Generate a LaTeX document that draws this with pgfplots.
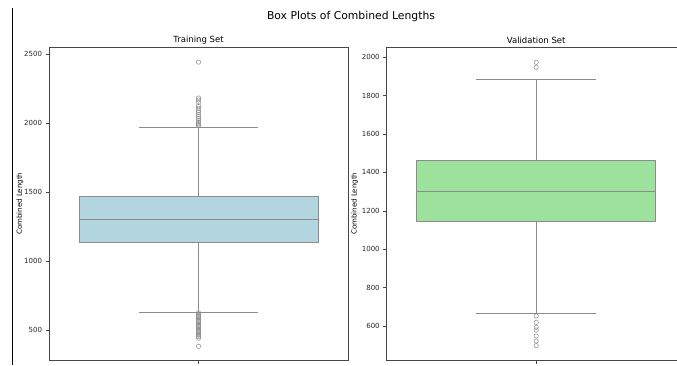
\documentclass[border=0pt]{standalone}
\usepackage{pgfplots}
\pgfplotsset{compat=1.18}
\usepackage{fontspec}
\setmainfont{DejaVu Sans}

\definecolor{boxblue}{RGB}{179,213,224}
\definecolor{boxgreen}{RGB}{156,226,156}
\definecolor{edgegray}{RGB}{140,140,140}
\definecolor{spine}{RGB}{70,70,70}

\pgfplotsset{
  boxaxis/.style={
    scale only axis, width=299pt, height=312.5pt,
    xmin=-0.5, xmax=0.5, xtick={0}, xticklabels={\strut},
    tick pos=left, tick align=outside, major tick length=3.5pt,
    every tick/.style={spine, line width=0.6pt},
    axis line style={spine, line width=0.8pt},
    tick label style={font=\fontsize{7}{8}\selectfont, text=black!85},
    /pgf/number format/assume math mode=true,
    /pgf/number format/1000 sep={},
    every axis title/.style={at={(axis description cs:0.5,1)}, anchor=south,
      font=\fontsize{8.5}{10}\selectfont},
    ylabel={Combined Length},
    every axis y label/.style={at={(axis description cs:0,0.5)}, xshift=-29pt,
      rotate=90, anchor=center, font=\fontsize{7}{8}\selectfont},
  },
  boxline/.style={draw=edgegray, line width=0.8pt, mark=none},
  outlier/.style={only marks, mark=o, mark size=2.2pt,
    mark options={draw=edgegray, fill=none, line width=0.5pt}},
}

\begin{document}
\begin{tikzpicture}

% training set: Q1 1133, median 1302, Q3 1466, whiskers 628 / 1971
\begin{axis}[boxaxis, at={(49pt,5pt)}, anchor=south west,
  title={Training Set}, ymin=283, ymax=2548,
  ytick={500,1000,1500,2000,2500}]
\addplot[boxline] coordinates {(0,1466) (0,1971)};
\addplot[boxline] coordinates {(0,1133) (0,628)};
\addplot[boxline] coordinates {(-0.2,1971) (0.2,1971)};
\addplot[boxline] coordinates {(-0.2,628) (0.2,628)};
\addplot[boxline, fill=boxblue] coordinates {(-0.4,1133) (0.4,1133) (0.4,1466) (-0.4,1466)} -- cycle;
\addplot[boxline] coordinates {(-0.4,1302) (0.4,1302)};
\addplot[outlier] table[x expr=0, y index=0, row sep=\\] {data\\
  2442\\2182\\2168\\2150\\2125\\2108\\2092\\2078\\2062\\2048\\2034\\2020\\2008\\1996\\1986\\1980\\
  625\\616\\607\\598\\589\\580\\570\\561\\552\\543\\534\\525\\516\\507\\498\\489\\480\\472\\463\\452\\441\\382\\
  };
\end{axis}

% validation set: Q1 1143, median 1301, Q3 1462, whiskers 669 / 1882
\begin{axis}[boxaxis, at={(386.7pt,5pt)}, anchor=south west,
  title={Validation Set}, ymin=424, ymax=2050,
  ytick={600,800,1000,1200,1400,1600,1800,2000},
  every axis y label/.style={at={(axis description cs:0,0.5)}, xshift=-32pt,
      rotate=90, anchor=center, font=\fontsize{7}{8}\selectfont}]
\addplot[boxline] coordinates {(0,1462) (0,1882)};
\addplot[boxline] coordinates {(0,1143) (0,669)};
\addplot[boxline] coordinates {(-0.2,1882) (0.2,1882)};
\addplot[boxline] coordinates {(-0.2,669) (0.2,669)};
\addplot[boxline, fill=boxgreen] coordinates {(-0.4,1143) (0.4,1143) (0.4,1462) (-0.4,1462)} -- cycle;
\addplot[boxline] coordinates {(-0.4,1301) (0.4,1301)};
\addplot[outlier] table[x expr=0, y index=0, row sep=\\] {data\\
  1973\\1947\\653\\620\\594\\580\\549\\523\\499\\
  };
\end{axis}

\node[font=\fontsize{10.8}{13}\selectfont] at (351pt,348pt) {Box Plots of Combined Lengths};
\draw[line width=1.4pt] (12.5pt,0pt) -- (12.5pt,357pt);

\pgfresetboundingbox
\useasboundingbox (0pt,0pt) rectangle (677pt,365pt);
\end{tikzpicture}
\end{document}
